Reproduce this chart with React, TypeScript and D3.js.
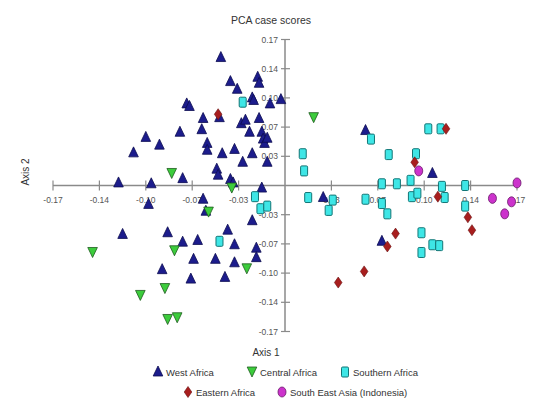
import React from 'react';
import * as d3 from 'd3';

// PCA case scores
const westAfrica: [number, number][] = [
  [-0.047, 0.149], [-0.040, 0.121], [-0.035, 0.112], [-0.020, 0.126], [-0.019, 0.119],
  [-0.024, 0.102], [-0.023, 0.099], [-0.011, 0.095], [-0.003, 0.100], [-0.072, 0.095],
  [-0.070, 0.092], [-0.060, 0.078], [-0.048, 0.079], [-0.032, 0.072], [-0.029, 0.076],
  [-0.019, 0.078], [-0.026, 0.062], [-0.061, 0.065], [-0.077, 0.062], [-0.102, 0.056],
  [-0.092, 0.047], [-0.111, 0.038], [-0.057, 0.049], [-0.057, 0.041], [-0.046, 0.037],
  [-0.037, 0.042], [-0.024, 0.037], [-0.017, 0.062], [-0.016, 0.054], [-0.015, 0.049],
  [-0.013, 0.055], [-0.013, 0.027], [-0.031, 0.027], [-0.050, 0.019], [-0.049, 0.012],
  [-0.075, 0.008], [-0.040, 0.007], [-0.038, 0.003], [-0.122, 0.003], [-0.098, 0.002],
  [-0.017, -0.003], [-0.100, -0.022], [-0.060, -0.016], [-0.058, -0.030], [-0.024, -0.041],
  [-0.119, -0.057], [-0.086, -0.055], [-0.075, -0.066], [-0.064, -0.064], [-0.042, -0.052],
  [-0.037, -0.069], [-0.021, -0.073], [-0.021, -0.084], [-0.067, -0.086], [-0.051, -0.086],
  [-0.037, -0.090], [-0.090, -0.098], [-0.069, -0.109], [-0.044, -0.107],
  [0.059, 0.064], [0.108, 0.014], [0.028, -0.014], [0.071, -0.065],
];

const centralAfrica: [number, number][] = [
  [0.021, 0.079], [-0.083, 0.014], [-0.039, -0.003], [-0.056, -0.031], [-0.141, -0.078],
  [-0.081, -0.076], [-0.028, -0.097], [-0.088, -0.120], [-0.106, -0.128], [-0.086, -0.156],
  [-0.079, -0.154],
];

const southernAfrica: [number, number][] = [
  [-0.031, 0.097], [-0.022, -0.013], [-0.018, -0.027], [-0.013, -0.024], [-0.048, -0.065],
  [0.013, 0.037], [0.014, 0.017], [0.063, 0.054], [0.076, 0.036], [0.096, 0.037],
  [0.105, 0.066], [0.114, 0.066], [0.071, 0.002], [0.082, 0.002], [0.092, 0.006],
  [0.115, -0.001], [0.132, 0.000], [0.017, -0.014], [0.035, -0.017], [0.032, -0.029],
  [0.059, -0.016], [0.071, -0.021], [0.075, -0.033], [0.093, -0.013], [0.097, -0.009],
  [0.117, -0.014], [0.132, -0.024], [0.100, -0.055], [0.100, -0.078], [0.108, -0.069],
  [0.113, -0.070],
];

const easternAfrica: [number, number][] = [
  [-0.049, 0.083], [0.118, 0.066], [0.095, 0.027], [0.112, -0.013], [0.134, -0.037],
  [0.137, -0.052], [0.081, -0.056], [0.075, -0.071], [0.058, -0.100], [0.039, -0.113],
];

const southEastAsia: [number, number][] = [
  [0.098, 0.017], [0.170, 0.003], [0.152, -0.015], [0.166, -0.019], [0.161, -0.033],
];

const tickValues = [-0.17, -0.136, -0.102, -0.068, -0.034, 0.034, 0.068, 0.102, 0.136, 0.17];
const tickLabel = (v: number) => v.toFixed(2);

const FONT = 'Liberation Sans, Arial, sans-serif';

type Shape = 'up' | 'down' | 'square' | 'diamond' | 'circle';

const Marker = ({ shape, x, y, fill, stroke }: { shape: Shape; x: number; y: number; fill: string; stroke: string }) => {
  const t = `translate(${x},${y})`;
  if (shape === 'up') return <path transform={t} d="M0,-6L4.8,4L-4.8,4Z" fill={fill} stroke={stroke} strokeWidth={0.8} />;
  if (shape === 'down') return <path transform={t} d="M-4.8,-5L4.8,-5L0,5Z" fill={fill} stroke={stroke} strokeWidth={0.8} />;
  if (shape === 'square') return <rect transform={t} x={-3.5} y={-5} width={7} height={10} rx={1.2} fill={fill} stroke={stroke} strokeWidth={1} />;
  if (shape === 'diamond') return <path transform={t} d="M0,-5.5L3.8,0L0,5.5L-3.8,0Z" fill={fill} stroke={stroke} strokeWidth={0.6} />;
  return <ellipse transform={t} rx={4} ry={5} fill={fill} stroke={stroke} strokeWidth={0.8} />;
};

const series = [
  { name: 'West Africa', data: westAfrica, shape: 'up' as Shape, fill: '#1c1c8c', stroke: '#0c0c50' },
  { name: 'Central Africa', data: centralAfrica, shape: 'down' as Shape, fill: '#3ccc3c', stroke: '#1e5a1e' },
  { name: 'Southern Africa', data: southernAfrica, shape: 'square' as Shape, fill: '#3ee6e6', stroke: '#137575' },
  { name: 'Eastern Africa', data: easternAfrica, shape: 'diamond' as Shape, fill: '#a81e1e', stroke: '#6a1010' },
  { name: 'South East Asia (Indonesia)', data: southEastAsia, shape: 'circle' as Shape, fill: '#cc33cc', stroke: '#6a1a6a' },
];

// legend placement
const legendPos = [
  { x: 158, y: 372 }, { x: 252, y: 372 }, { x: 345, y: 372 },
  { x: 188, y: 392 }, { x: 282, y: 392 },
];

export default function App() {
  const x = d3.scaleLinear().domain([-0.17, 0.17]).range([53, 517]);
  const y = d3.scaleLinear().domain([-0.17, 0.17]).range([331.5, 39.5]);
  const x0 = x(0);
  const y0 = y(0);
  const axisColor = '#8a8a8a';

  return (
    <svg width={550} height={413} style={{ position: 'absolute', left: 0, top: 0, background: '#fff' }} fontFamily={FONT}>
      <text x={271} y={24} textAnchor="middle" fontSize={10.5} fill="#333">PCA case scores</text>

      {/* axes */}
      <line x1={x(-0.17)} x2={x(0.17)} y1={y0} y2={y0} stroke={axisColor} strokeWidth={1.5} />
      <line x1={x0} x2={x0} y1={y(0.17)} y2={y(-0.17)} stroke={axisColor} strokeWidth={1.5} />
      {tickValues.map(v => (
        <g key={'x' + v}>
          <line x1={x(v)} x2={x(v)} y1={y0 - 5} y2={y0 + 5} stroke={axisColor} strokeWidth={1.2} />
          <text x={x(v)} y={y0 + 17} textAnchor="middle" fontSize={8.5} fill="#555">{tickLabel(v)}</text>
        </g>
      ))}
      {tickValues.map(v => (
        <g key={'y' + v}>
          <line x1={x0 - 4} x2={x0 + 5} y1={y(v)} y2={y(v)} stroke={axisColor} strokeWidth={1.2} />
          <text x={x0 - 7} y={y(v) + 3} textAnchor="end" fontSize={8.5} fill="#555">{tickLabel(v)}</text>
        </g>
      ))}

      <text transform="translate(29,172) rotate(-90)" textAnchor="middle" fontSize={10} fill="#333">Axis 2</text>
      <text x={266} y={356} textAnchor="middle" fontSize={10} fill="#333">Axis 1</text>

      {/* points */}
      {series.map(s => (
        <g key={s.name}>
          {s.data.map((d, i) => (
            <Marker key={i} shape={s.shape} x={x(d[0])} y={y(d[1])} fill={s.fill} stroke={s.stroke} />
          ))}
        </g>
      ))}

      {/* legend */}
      {series.map((s, i) => (
        <g key={'lg' + s.name}>
          <Marker shape={s.shape} x={legendPos[i].x} y={legendPos[i].y} fill={s.fill} stroke={s.stroke} />
          <text x={legendPos[i].x + 8} y={legendPos[i].y + 3.5} fontSize={9.5} fill="#333">{s.name}</text>
        </g>
      ))}
    </svg>
  );
}
